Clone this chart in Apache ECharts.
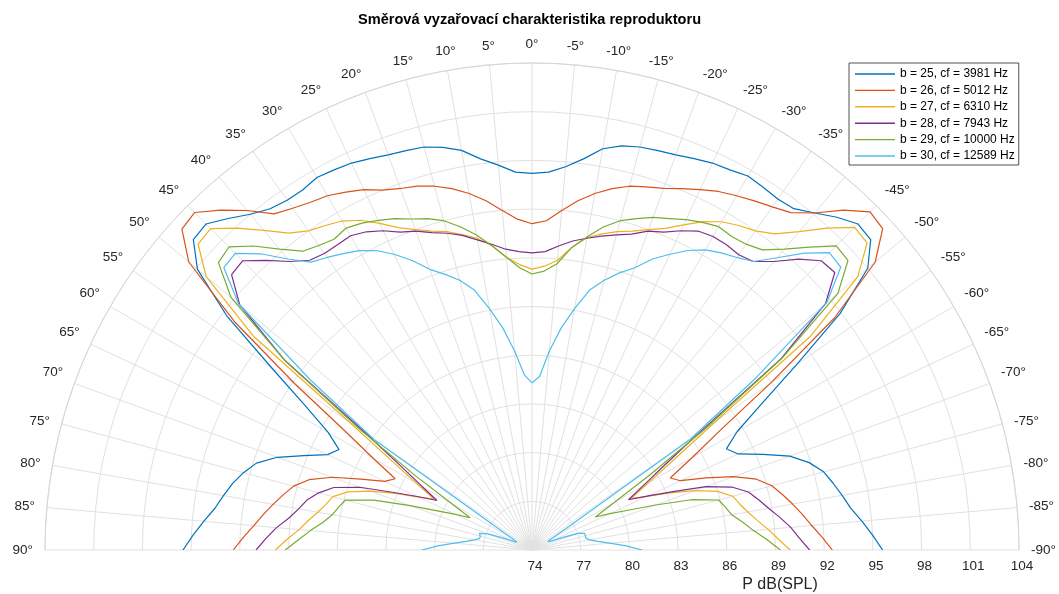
<!DOCTYPE html>
<html><head><meta charset="utf-8">
<script src="https://cdn.jsdelivr.net/npm/echarts@6/dist/echarts.min.js"></script>
<style>html,body{margin:0;padding:0;background:#fff}#c{width:1059px;height:594px}</style>
</head><body><div id="c"></div>
<script>
const angles = [90,87.5,85,82.5,80,77.5,75,72.5,70,67.5,65,62.5,60,57.5,55,52.5,50,47.5,45,42.5,40,37.5,35,32.5,30,27.5,25,22.5,20,17.5,15,12.5,10,7.5,5,2.5,0,
  -2.5,-5,-7.5,-10,-12.5,-15,-17.5,-20,-22.5,-25,-27.5,-30,-32.5,-35,-37.5,-40,-42.5,-45,-47.5,-50,-52.5,-55,-57.5,-60,-62.5,-65,-67.5,-70,-72.5,-75,-77.5,-80,-82.5,-85,-87.5,-90];
const seriesNames = ['b = 25, cf = 3981 Hz','b = 26, cf = 5012 Hz','b = 27, cf = 6310 Hz','b = 28, cf = 7943 Hz','b = 29, cf = 10000 Hz','b = 30, cf = 12589 Hz'];
const rTicks = [74,77,80,83,86,89,92,95,98,101,104];
const thetaStep = 5;

const b25 = [95.5,94.9,94.3,93.7,93.3,92.9,92.4,91.8,90.7,89.2,87.9,87.4,88.5,90.6,93.6,97.7,100.9,102.3,102.4,101.7,101.0,100.5,100.3,100.3,100.5,100.4,100.3,100.1,99.9,99.8,99.7,99.4,99.0,98.3,97.8,97.3,97.2,
  97.3,97.7,98.3,99.1,99.5,99.7,99.8,99.9,100.1,100.3,100.4,100.6,100.5,100.4,100.5,101.1,101.8,102.4,102.3,101.0,97.9,93.9,90.8,88.6,87.5,88.0,89.4,90.9,91.9,92.6,93.0,93.4,93.8,94.4,95.0,95.6];
const b26 = [92.4,91.8,91.2,90.7,90.2,89.7,89.2,88.4,87.1,85.4,84.0,83.5,85.3,87.7,91.8,97.1,101.6,103.25,103.4,102.4,101.3,100.1,99.7,99.4,99.2,98.85,98.5,98.0,97.7,97.5,97.2,96.8,96.3,95.7,95.0,94.4,94.1,
  94.3,95.0,95.7,96.3,96.8,97.2,97.45,97.7,98.1,98.5,98.9,99.2,99.5,99.8,100.2,101.1,102.4,103.45,103.3,101.6,97.5,92.0,87.8,85.4,83.6,84.1,85.6,87.2,88.5,89.3,89.8,90.3,90.8,91.3,91.9,92.5];
const b27 = [89.8,89.1,88.4,87.9,87.4,87.0,86.7,85.9,84.6,83.1,81.7,80.8,82.2,84.3,87.7,95.6,100.2,101.9,102.0,100.9,99.7,98.6,98.0,97.7,97.4,96.9,96.2,95.5,95.0,94.6,94.3,93.9,93.5,92.9,92.1,91.6,91.3,
  91.5,91.9,92.8,93.55,93.95,94.3,94.6,95.0,95.45,96.1,96.8,97.35,97.7,98.0,98.55,99.6,100.9,102.1,102.0,100.2,95.6,87.8,84.4,82.3,80.9,81.8,83.2,84.7,86.0,86.8,87.1,87.5,88.0,88.6,89.2,89.9];
const b28 = [91.0,90.4,89.8,89.1,88.6,88.2,87.6,86.8,85.3,83.3,81.8,80.6,81.8,83.5,86.4,93.2,97.5,99.1,99.2,98.2,97.2,96.5,96.3,96.3,96.35,96.1,95.7,95.2,94.9,94.5,94.2,93.85,93.4,93.0,92.6,92.4,92.3,
  92.4,92.8,93.2,93.5,93.8,94.1,94.4,94.9,95.2,95.7,96.15,96.3,96.3,96.2,96.4,97.2,98.3,99.2,99.3,97.6,93.3,86.5,83.6,81.9,80.7,81.9,83.4,85.4,86.9,87.8,88.3,88.8,89.4,90.0,90.5,91.1];
const b29 = [89.2,88.4,87.7,87.0,86.5,86.2,85.9,84.2,82.0,80.3,79.2,78.3,79.7,82.5,86.9,93.2,98.2,100.2,100.4,99.4,98.2,97.2,96.9,96.7,96.9,96.7,96.4,96.1,95.7,95.4,95.0,94.4,93.7,92.9,92.1,91.4,91.0,
  91.2,91.7,92.8,93.6,94.4,95.0,95.4,95.8,96.1,96.45,96.75,97.0,96.9,97.0,97.3,98.2,99.3,100.5,100.4,98.6,93.4,87.0,82.6,79.8,78.4,79.3,80.4,82.1,84.3,85.9,86.2,86.5,87.1,87.7,88.5,89.3];
const b30 = [80.8,79.8,78.8,78.1,77.6,77.3,77.3,77.4,76.9,75.9,75.3,75.05,75.3,76.6,85.9,91.2,97.6,99.75,99.85,98.75,97.4,96.35,96.0,95.65,95.3,94.8,94.1,93.3,92.4,91.8,91.2,90.4,89.1,87.8,86.3,84.8,84.3,
  84.7,86.3,87.8,89.1,90.4,91.2,91.9,92.5,93.4,94.1,94.8,95.35,95.7,96.0,96.4,97.5,98.8,99.9,99.8,97.7,91.3,85.9,76.7,75.3,75.1,75.3,75.9,77.0,77.4,77.4,77.4,77.6,78.1,78.8,79.8,80.8];

const allValues = [b25,b26,b27,b28,b29,b30];
const colors = ['#0072BD','#D95319','#EDB120','#7E2F8E','#77AC30','#4DBEEE'];
const FONT = '"Liberation Sans", Arial, Helvetica, sans-serif';

const chart = echarts.init(document.getElementById('c'), null, {renderer:'canvas'});
chart.setOption({
  animation: false,
  backgroundColor: '#fff',
  title: {
    text: 'Směrová vyzařovací charakteristika reproduktoru',
    left: 'center', top: 7, padding: [5, 5, 5, 13],
    textStyle: {fontSize: 14.6, fontWeight: 'bold', color: '#000', fontFamily: FONT}
  },
  legend: {
    orient: 'vertical', left: 849, top: 63,
    icon: 'rect', itemWidth: 40, itemHeight: 1.4, itemGap: 4.4,
    padding: [5, 4, 3, 6],
    backgroundColor: '#fff', borderColor: '#262626', borderWidth: 0.8,
    textStyle: {fontSize: 12, color: '#000', fontFamily: FONT, lineHeight: 12},
    data: seriesNames
  },
  polar: {center: [532, 550], radius: [0, 487]},
  angleAxis: {
    type: 'value', min: -90, max: 90, interval: thetaStep,
    startAngle: 0, endAngle: 180, clockwise: false,
    axisLine: {show: true, lineStyle: {color: '#d6d6d6', width: 1}},
    axisTick: {show: false},
    axisLabel: {margin: 12, fontSize: 13.5, color: '#262626', fontFamily: FONT, formatter: v => v + '°'},
    splitLine: {show: true, lineStyle: {color: '#e1e1e1', width: 1}}
  },
  radiusAxis: {
    type: 'value', min: rTicks[0], max: rTicks[rTicks.length-1], interval: rTicks[1]-rTicks[0],
    axisLine: {show: false}, axisTick: {show: false},
    axisLabel: {margin: -9, verticalAlign: 'top', fontSize: 13.5, color: '#262626', fontFamily: FONT, padding: [0,0,0,6]},
    splitLine: {show: true, lineStyle: {color: '#e1e1e1', width: 1}},
    name: 'P dB(SPL)', nameLocation: 'middle', nameGap: 27,
    nameTextStyle: {fontSize: 16, color: '#262626', fontFamily: FONT, verticalAlign: 'top', padding: [0,0,0,9]}
  },
  series: seriesNames.map((n, i) => ({
    type: 'line', name: n, coordinateSystem: 'polar',
    data: allValues[i].map((v, j) => [v, angles[j]]),
    symbol: 'none', smooth: false,
    lineStyle: {width: 1.2, color: colors[i]},
    itemStyle: {color: colors[i]}
  }))
});
</script></body></html>
